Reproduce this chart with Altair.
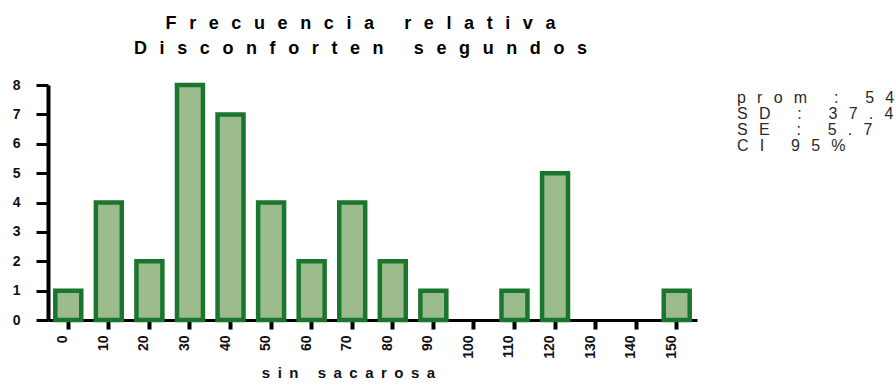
import altair as alt
import pandas as pd

# ---- data ----
categories = ["0", "10", "20", "30", "40", "50", "60", "70", "80", "90",
              "100", "110", "120", "130", "140", "150"]
counts = [1, 4, 2, 8, 7, 4, 2, 4, 2, 1, 0, 1, 5, 0, 0, 1]
y_ticks = [0, 1, 2, 3, 4, 5, 6, 7, 8]
title_lines = ["Frecuencia relativa", "Disconforten segundos"]
x_title = "sin sacarosa"
stats_lines = ["prom : 54", "SD : 37.4", "SE : 5.7", "CI 95%"]


def spaced(s, gap):
    return gap.join("\u00a0" if c == " " else c for c in s)


df = pd.DataFrame({"cat": categories, "n": counts})
stats_df = pd.DataFrame({"k": [0]})

FONT = "Liberation Sans"

bars = alt.Chart(df).transform_filter("datum.n > 0").mark_bar(
    fill="#9dbc8e", stroke="#1a762c", strokeWidth=4.5, strokeJoin="miter"
).encode(
    x=alt.X("cat:N", sort=categories,
            scale=alt.Scale(domain=categories, paddingInner=0.36, paddingOuter=0.18),
            axis=alt.Axis(
                title=spaced(x_title, "\u2002"),
                titleFont=FONT, titleFontSize=15, titleFontWeight="bold",
                titleColor="#111111", titleX=300, titleY=57,
                titleBaseline="alphabetic", titleAlign="center",
                labelAngle=270, labelAlign="right", labelBaseline="middle",
                labelFont=FONT, labelFontSize=14, labelFontWeight="bold",
                labelColor="#111111", labelPadding=6, labelOffset=-5,
                domainColor="black", domainWidth=3,
                tickColor="black", tickWidth=4, tickSize=9,
                grid=False)),
    y=alt.Y("n:Q", scale=alt.Scale(domain=[0, 8], nice=False),
            axis=alt.Axis(
                title=None, values=y_ticks, format="d",
                labelFont=FONT, labelFontSize=14, labelFontWeight="bold",
                labelColor="#111111", labelPadding=16,
                domainColor="black", domainWidth=4,
                tickColor="black", tickWidth=3, tickSize=12,
                grid=False)),
)

stats = alt.Chart(stats_df).mark_text(
    text=[spaced(s, "\u2002\u2009") for s in stats_lines],
    font=FONT, fontSize=16, color="#2a2a2a", align="left",
    baseline="top", lineHeight=16,
).encode(x=alt.value(689), y=alt.value(5))

chart = alt.layer(bars, stats).properties(
    width=649, height=235,
    background="white",
    autosize=alt.AutoSizeParams(type="none"),
    padding={"left": 48, "top": 85, "right": 199, "bottom": 65},
    title=alt.Title(
        text=[spaced(t, "\u2002\u2009") for t in title_lines],
        font=FONT, fontSize=18, fontWeight="bold", color="black",
        lineHeight=25, anchor="middle", dx=-12, offset=20,
    ),
).configure_view(strokeWidth=0, stroke="transparent")

chart.save("out.html", embed_options={"renderer": "svg", "actions": False})
